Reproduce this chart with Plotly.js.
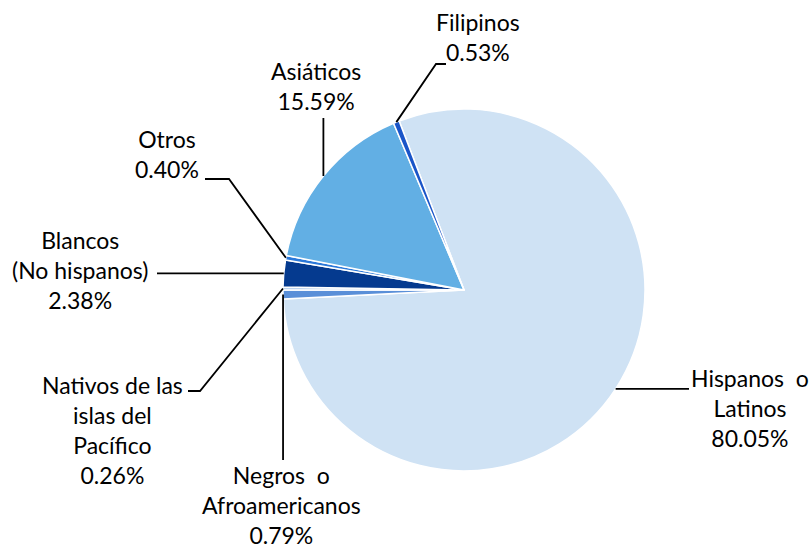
<!DOCTYPE html>
<html><head><meta charset="utf-8">
<script src="https://cdn.plot.ly/plotly-3.0.1.min.js"></script>
<style>html,body{margin:0;padding:0;background:#fff}#chart{width:812px;height:552px}</style>
</head><body><div id="chart"></div>
<script>
// ---- data ----
const categories = ['Hispanos o Latinos', 'Negros o Afroamericanos', 'Nativos de las islas del Pacífico', 'Blancos (No hispanos)', 'Otros', 'Asiáticos', 'Filipinos'];
const labelLines = [['Hispanos  o', 'Latinos'], ['Negros  o', 'Afroamericanos'], ['Nativos de las', 'islas del', 'Pacífico'], ['Blancos', '(No hispanos)'], ['Otros'], ['Asiáticos'], ['Filipinos']];
const percentages = [80.05, 0.79, 0.26, 2.38, 0.40, 15.59, 0.53];

// ---- style / layout ----
const sliceColors = ['#CFE2F4', '#5A8FD8', '#BCD3EF', '#053A8F', '#2B78D9', '#62AFE4', '#1A55C8'];
const W = 812, H = 552;
const CX = 464, CY = 290, R = 181;
const ROT = -21;
// label text centers (px) and leader shapes
const labelPos = [[750, 408], [281, 505], [112, 430], [80, 270], [167, 154], [316, 86], [478, 37]];
// leader: 'h' = horizontal to x, 'v' = vertical to y, 'p' = via points
const leaders = [
  {mode: 'h', x: 689},
  {mode: 'v', y: 460},
  {mode: 'p', pts: [[200, 391], [188, 391]]},
  {mode: 'h', x: 157},
  {mode: 'p', pts: [[229, 179], [205, 179]]},
  {mode: 'v', y: 118},
  {mode: 'p', pts: [[436, 64], [446, 64]]}
];

const px = x => x / W, py = y => 1 - y / H;
const total = percentages.reduce((a, b) => a + b, 0);

const trace = {
  type: 'pie',
  values: percentages,
  labels: categories,
  sort: false,
  direction: 'clockwise',
  rotation: ROT,
  textinfo: 'none',
  hoverinfo: 'label+percent',
  showlegend: false,
  marker: {colors: sliceColors, line: {color: '#ffffff', width: 1.5}},
  domain: {x: [px(CX - R), px(CX + R)], y: [py(CY + R), py(CY - R)]}
};

const annotations = [], shapes = [];
let cum = 0;
percentages.forEach((v, i) => {
  const mid = ROT + 360 * (cum + v / 2) / total;
  cum += v;
  const a = mid * Math.PI / 180;
  const ex = CX + R * Math.sin(a), ey = CY - R * Math.cos(a);
  const L = leaders[i];
  let pts = [[ex, ey]];
  if (L.mode === 'h') pts.push([L.x, ey]);
  else if (L.mode === 'v') pts.push([ex, L.y]);
  else pts = pts.concat(L.pts);
  const path = pts.map((p, k) => (k ? 'L' : 'M') + px(p[0]).toFixed(5) + ',' + py(p[1]).toFixed(5)).join(' ');
  shapes.push({type: 'path', xref: 'paper', yref: 'paper', path: path, line: {color: '#000000', width: 1.8}});
  annotations.push({
    xref: 'paper', yref: 'paper', x: px(labelPos[i][0]), y: py(labelPos[i][1]),
    xanchor: 'center', yanchor: 'middle', align: 'center', showarrow: false,
    text: labelLines[i].concat([v.toFixed(2) + '%']).join('<br>'),
    font: {family: 'Lato, "Open Sans", sans-serif', size: 23, color: '#000000'}
  });
});

const layout = {
  width: W, height: H,
  margin: {l: 0, r: 0, t: 0, b: 0},
  paper_bgcolor: '#ffffff',
  annotations: annotations,
  shapes: shapes
};
Plotly.newPlot('chart', [trace], layout, {displayModeBar: false, staticPlot: true});
</script>
</body></html>
